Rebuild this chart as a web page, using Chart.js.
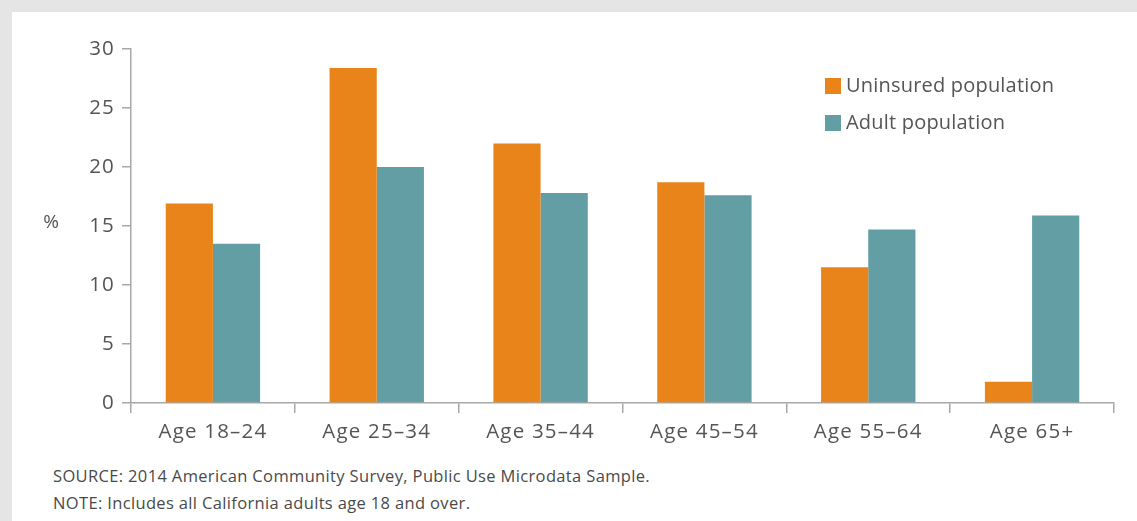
<!DOCTYPE html>
<html>
<head>
<meta charset="utf-8">
<script src="https://cdn.jsdelivr.net/npm/chart.js@4.4.0/dist/chart.umd.min.js"></script>
<style>
  html, body { margin: 0; padding: 0; }
  body { width: 1137px; height: 521px; background: #e5e5e5; position: relative; overflow: hidden; font-family: "Open Sans", sans-serif; }
  #panel { position: absolute; left: 12px; top: 12px; width: 1125px; height: 509px; background: #ffffff; }
  #wrap { position: absolute; left: 0; top: 0; width: 1137px; height: 460px; }
  .note { position: absolute; left: 53px; font-size: 16.5px; letter-spacing: 0.35px; color: #4a4a4a; white-space: nowrap; }
</style>
</head>
<body>
<div id="panel"></div>
<div id="wrap"><canvas id="chart"></canvas></div>
<div class="note" style="top:464px">SOURCE: 2014 American Community Survey, Public Use Microdata Sample.</div>
<div class="note" style="top:491px">NOTE: Includes all California adults age 18 and over.</div>
<script>
// Age groups and share of each population (%)
const categories = ['Age 18\u201324', 'Age 25\u201334', 'Age 35\u201344', 'Age 45\u201354', 'Age 55\u201364', 'Age 65+'];
const uninsured = [16.9, 28.4, 22.0, 18.7, 11.5, 1.8];
const adults = [13.5, 20.0, 17.8, 17.6, 14.7, 15.9];
const seriesNames = ['Uninsured population', 'Adult population'];
const seriesColors = ['#e8841a', '#629ea4'];
const yTicks = [0, 5, 10, 15, 20, 25, 30];

const textColor = '#555555';
const axisColor = '#a8a8a8';
const fontFamily = '"Open Sans", sans-serif';
const tickSpacing = '1.2px';

// Wider tracking for axis text
const tracking = {
  id: 'tracking',
  beforeLayout(chart) { chart.ctx.letterSpacing = tickSpacing; },
  beforeDraw(chart) { chart.ctx.letterSpacing = tickSpacing; }
};

// Legend inside the plot (top right) and horizontal "%" axis label
const annotations = {
  id: 'annotations',
  afterDraw(chart) {
    const ctx = chart.ctx;
    ctx.save();
    ctx.letterSpacing = '0.2px';
    ctx.font = '20px ' + fontFamily;
    ctx.textBaseline = 'middle';
    ctx.textAlign = 'left';
    chart.data.datasets.forEach((ds, i) => {
      const y = 78 + i * 37;
      ctx.fillStyle = ds.backgroundColor;
      ctx.fillRect(825, y, 16, 16);
      ctx.fillStyle = textColor;
      ctx.fillText(ds.label, 846, y + 8);
    });
    ctx.font = '19px ' + fontFamily;
    ctx.letterSpacing = '0px';
    ctx.textAlign = 'center';
    ctx.fillText('%', 51, 223);
    ctx.restore();
  }
};

new Chart(document.getElementById('chart'), {
  type: 'bar',
  data: {
    labels: categories,
    datasets: [
      { label: seriesNames[0], data: uninsured, backgroundColor: seriesColors[0] },
      { label: seriesNames[1], data: adults, backgroundColor: seriesColors[1] }
    ]
  },
  options: {
    responsive: true,
    maintainAspectRatio: false,
    animation: false,
    layout: { padding: { top: 49, right: 23, bottom: 0, left: 0 } },
    datasets: { bar: { categoryPercentage: 0.576, barPercentage: 1.0, borderWidth: 0 } },
    plugins: { legend: { display: false }, tooltip: { enabled: false } },
    scales: {
      x: {
        grid: { offset: true, drawOnChartArea: false, drawTicks: true, tickLength: 10, color: axisColor, lineWidth: 1.5 },
        border: { display: true, color: axisColor, width: 1.5 },
        ticks: { color: textColor, font: { family: fontFamily, size: 20.5 }, padding: 7, maxRotation: 0 },
        afterFit(scale) { scale.height = 57; }
      },
      y: {
        min: 0, max: 30,
        afterBuildTicks(scale) { scale.ticks = yTicks.map(v => ({ value: v })); },
        grid: { drawOnChartArea: false, drawTicks: true, tickLength: 9, color: axisColor, lineWidth: 1.5 },
        border: { display: true, color: axisColor, width: 1.5 },
        ticks: { color: textColor, font: { family: fontFamily, size: 20.5 }, padding: 7 },
        afterFit(scale) { scale.width = 131; }
      }
    }
  },
  plugins: [tracking, annotations]
});
</script>
</body>
</html>
